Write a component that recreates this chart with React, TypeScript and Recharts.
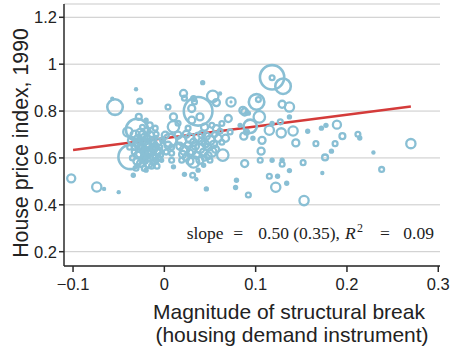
import React from 'react';
import { ScatterChart, Scatter, XAxis, YAxis, ZAxis, CartesianGrid } from 'recharts';

// Magnitude of structural break (housing demand instrument)
const breakMagnitude = [
  -0.102, -0.074, -0.066, -0.050, -0.054, -0.057, -0.031, -0.027, -0.028, -0.030,
  -0.037, -0.034, -0.022, -0.040, -0.036, -0.032, -0.029, -0.026, -0.022, -0.019,
  -0.016, -0.013, -0.009, -0.007, -0.005, -0.032, -0.028, -0.024, -0.020, -0.017,
  -0.014, -0.010, -0.008, -0.004, -0.033, -0.029, -0.026, -0.022, -0.019, -0.016,
  -0.013, -0.009, -0.006, -0.030, -0.026, -0.021, -0.017, -0.014, -0.031, -0.020,
  -0.008, -0.003, -0.038, -0.024, -0.016, -0.020, -0.010, -0.009, 0.004, 0.010,
  0.010, 0.006, 0.008, 0.008, 0.008, 0.010, 0.001, 0.004, 0.002, -0.002,
  0.037, 0.030, 0.039, 0.032, 0.042, 0.021, 0.022, 0.053, 0.061, 0.057,
  0.073, 0.073, 0.070, 0.063, 0.057, 0.072, 0.083, 0.088, 0.033, 0.030,
  0.015, 0.019, 0.024, 0.028, 0.032, 0.037, 0.041, 0.046, 0.050, 0.054,
  0.017, 0.022, 0.026, 0.030, 0.035, 0.039, 0.043, 0.048, 0.052, 0.056,
  0.024, 0.028, 0.019, 0.039, 0.044, 0.050, 0.059, 0.063, 0.067, 0.061,
  0.064, 0.032, 0.031, 0.035, 0.043, 0.046, 0.022, 0.037, 0.026, 0.044,
  0.052, 0.015, 0.118, 0.118, 0.130, 0.101, 0.103, 0.129, 0.137, 0.104,
  0.137, 0.086, 0.092, 0.094, 0.115, 0.127, 0.118, 0.141, 0.128, 0.107,
  0.087, 0.090, 0.097, 0.144, 0.106, 0.088, 0.105, 0.118, 0.129, 0.129,
  0.115, 0.124, 0.122, 0.134, 0.137, 0.079, 0.078, 0.092, 0.152, 0.153,
  0.173, 0.176, 0.183, 0.157, 0.172, 0.177, 0.189, 0.195, 0.212, 0.214,
  0.166, 0.187, 0.229, 0.238, 0.270,
  -0.030, -0.025, -0.018, -0.012, -0.015, -0.021, -0.027, -0.011, -0.006, -0.023,
  -0.012, -0.035, -0.018, -0.024, 0.034, 0.045, 0.028, 0.048, 0.020, 0.041,
  0.055,
];

// House price index, 1990
const housePriceIndex = [
  0.513, 0.476, 0.468, 0.454, 0.817, 0.853, 0.893, 0.842, 0.775, 0.720,
  0.604, 0.526, 0.555, 0.711, 0.675, 0.697, 0.684, 0.705, 0.688, 0.714,
  0.693, 0.675, 0.701, 0.667, 0.646, 0.650, 0.658, 0.641, 0.663, 0.646,
  0.633, 0.650, 0.625, 0.612, 0.625, 0.612, 0.620, 0.603, 0.616, 0.599,
  0.607, 0.590, 0.599, 0.586, 0.577, 0.586, 0.573, 0.565, 0.556, 0.548,
  0.565, 0.590, 0.646, 0.731, 0.739, 0.761, 0.727, 0.690, 0.817, 0.775,
  0.733, 0.675, 0.646, 0.620, 0.590, 0.562, 0.697, 0.654, 0.625, 0.675,
  0.799, 0.811, 0.775, 0.853, 0.921, 0.875, 0.855, 0.863, 0.875, 0.836,
  0.839, 0.839, 0.768, 0.747, 0.725, 0.711, 0.739, 0.796, 0.839, 0.761,
  0.697, 0.675, 0.701, 0.684, 0.667, 0.688, 0.671, 0.693, 0.675, 0.658,
  0.650, 0.633, 0.654, 0.633, 0.612, 0.641, 0.625, 0.646, 0.625, 0.637,
  0.603, 0.586, 0.590, 0.590, 0.599, 0.590, 0.684, 0.667, 0.684, 0.714,
  0.612, 0.583, 0.526, 0.509, 0.569, 0.468, 0.530, 0.548, 0.727, 0.731,
  0.739, 0.748, 0.944, 0.942, 0.906, 0.839, 0.849, 0.829, 0.817, 0.775,
  0.775, 0.803, 0.791, 0.735, 0.718, 0.754, 0.747, 0.715, 0.707, 0.675,
  0.693, 0.710, 0.684, 0.664, 0.629, 0.576, 0.590, 0.590, 0.590, 0.573,
  0.522, 0.522, 0.475, 0.492, 0.546, 0.505, 0.474, 0.442, 0.580, 0.418,
  0.536, 0.602, 0.629, 0.714, 0.727, 0.739, 0.742, 0.693, 0.701, 0.685,
  0.661, 0.661, 0.623, 0.551, 0.661,
  0.668, 0.650, 0.655, 0.660, 0.620, 0.630, 0.640, 0.640, 0.630, 0.595,
  0.585, 0.600, 0.680, 0.700, 0.650, 0.660, 0.620, 0.610, 0.615, 0.700,
  0.700,
];

// Bubble weight (area-proportional)
const cityWeight = [
  20, 25, 4, 4, 64, 4, 4, 9, 12, 121,
  144, 6, 9, 25, 16, 25, 16, 25, 16, 16,
  25, 16, 9, 16, 9, 16, 25, 16, 25, 16,
  25, 16, 16, 9, 9, 16, 25, 16, 25, 16,
  16, 9, 9, 16, 16, 9, 16, 9, 9, 6,
  9, 6, 9, 9, 12, 6, 9, 4, 9, 16,
  36, 49, 9, 9, 9, 6, 16, 16, 9, 9,
  196, 16, 16, 9, 6, 16, 9, 36, 4, 16,
  25, 2, 16, 9, 16, 9, 6, 16, 9, 16,
  16, 25, 16, 25, 16, 25, 16, 16, 25, 16,
  16, 25, 16, 25, 16, 25, 16, 16, 25, 16,
  16, 16, 9, 16, 9, 9, 16, 9, 16, 9,
  36, 36, 9, 4, 6, 6, 6, 6, 9, 16,
  9, 9, 144, 9, 64, 64, 9, 16, 25, 36,
  6, 16, 6, 49, 25, 9, 6, 25, 25, 16,
  16, 9, 6, 16, 16, 16, 9, 6, 6, 9,
  9, 6, 25, 6, 6, 6, 6, 9, 9, 25,
  4, 12, 6, 6, 6, 6, 20, 12, 9, 6,
  9, 9, 4, 9, 25,
  16, 16, 16, 16, 16, 16, 16, 16, 16, 16,
  9, 9, 16, 16, 16, 16, 16, 16, 16, 16,
  9,
];

// Fitted regression line endpoints
const fitX = [-0.1, 0.27];
const fitY = [0.634, 0.819];

const xTicks = [-0.1, 0, 0.1, 0.2, 0.3];
const yTicks = [0.2, 0.4, 0.6, 0.8, 1, 1.2];

const points = breakMagnitude.map((x, i) => ({ x, y: housePriceIndex[i], w: cityWeight[i] }));
const fitData = fitX.map((x, i) => ({ x, y: fitY[i] }));

const BLUE = '#89bfd4';
const RED = '#d43b3a';
const AXIS = '#2a2a2a';
const SANS = '"Liberation Sans", Arial, Helvetica, sans-serif';
const SERIF = '"Liberation Serif", "Times New Roman", serif';

const Bubble = (props: any) => {
  const { cx, cy } = props;
  if (cx == null || cy == null || isNaN(cx) || isNaN(cy)) return <g />;
  const rad = props.width ? props.width / 2 : Math.sqrt((props.size ?? 0) / Math.PI);
  if (!rad || isNaN(rad)) return <g />;
  if (rad < 3) return <circle cx={cx} cy={cy} r={rad} fill={BLUE} />;
  const sw = rad > 7 ? 2.6 : 2.3;
  return <circle cx={cx} cy={cy} r={rad - sw / 2 + 0.3} fill="none" stroke={BLUE} strokeWidth={sw} />;
};

const fmtX = (v: number) => (v < 0 ? '\u2212' + String(Math.abs(v)) : String(v));

export default function App() {
  return (
    <div style={{ position: 'absolute', left: 0, top: 0, width: 452, height: 352, background: '#fff' }}>
      <ScatterChart width={452} height={352} margin={{ top: 4, right: 12, bottom: 0, left: 0 }}>
        <CartesianGrid horizontal vertical={false} stroke="#c9c9c9" strokeWidth={1} />
        <XAxis
          type="number"
          dataKey="x"
          domain={[-0.1099, 0.3019]}
          ticks={xTicks}
          allowDataOverflow
          height={86}
          tickFormatter={fmtX}
          axisLine={{ stroke: AXIS, strokeWidth: 1.5 }}
          tickLine={{ stroke: AXIS, strokeWidth: 1.5 }}
          tickSize={6}
          tickMargin={6}
          tick={{ fill: '#222', fontSize: 16.5, fontFamily: SANS }}
        />
        <YAxis
          type="number"
          dataKey="y"
          domain={[0.139, 1.2567]}
          ticks={yTicks}
          allowDataOverflow
          width={64}
          axisLine={{ stroke: AXIS, strokeWidth: 1.5 }}
          tickLine={{ stroke: AXIS, strokeWidth: 1.5 }}
          tickSize={5}
          tickMargin={2}
          tick={{ fill: '#222', fontSize: 16.5, fontFamily: SANS }}
        />
        <ZAxis type="number" dataKey="w" domain={[0, 225]} range={[0, 225 * Math.PI * 1.2]} />
        <Scatter
          data={fitData}
          line={{ stroke: RED, strokeWidth: 2.5 }}
          shape={() => <g />}
          isAnimationActive={false}
          legendType="none"
        />
        <Scatter data={points} shape={Bubble} isAnimationActive={false} />
      </ScatterChart>
      <svg
        width={452}
        height={352}
        style={{ position: 'absolute', left: 0, top: 0, pointerEvents: 'none' }}
      >
        <text
          x={28}
          y={143}
          transform="rotate(-90 28 143)"
          textAnchor="middle"
          fontSize={21.3}
          fontFamily={SANS}
          fill="#222"
        >
          House price index, 1990
        </text>
        <text x={289} y={319} textAnchor="middle" fontSize={21} fontFamily={SANS} fill="#222">
          Magnitude of structural break
        </text>
        <text x={292} y={342} textAnchor="middle" fontSize={21} fontFamily={SANS} fill="#222">
          (housing demand instrument)
        </text>
        <text y={239} fontSize={17.5} fontFamily={SERIF} fill="#222">
          <tspan x={186.7}>slope</tspan>
          <tspan x={233.3}>=</tspan>
          <tspan x={258.3}>0.50 (0.35),</tspan>
          <tspan x={345} fontStyle="italic">R</tspan>
          <tspan x={357} dy={-7} fontSize={12}>2</tspan>
          <tspan x={380} dy={7}>=</tspan>
          <tspan x={403.3}>0.09</tspan>
        </text>
      </svg>
    </div>
  );
}
